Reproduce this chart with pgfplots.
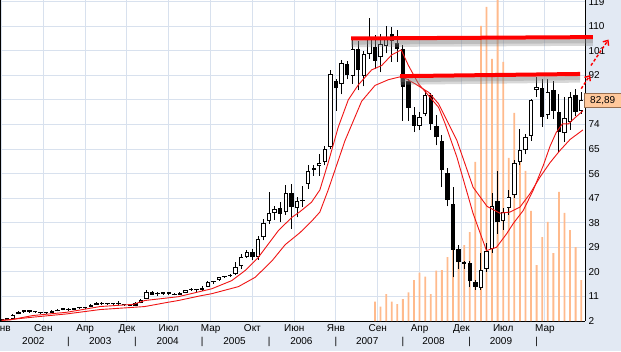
\documentclass[border=0pt]{standalone}
\usepackage{pgfplots}
\pgfplotsset{compat=1.18}
\usepackage{pgfplotstable}
\usepackage{fontspec}
\setmainfont{Liberation Sans}
\usetikzlibrary{arrows.meta}
\definecolor{bgc}{RGB}{226,233,243}
\definecolor{gridc}{RGB}{216,225,238}
\definecolor{volc}{RGB}{255,186,140}
\definecolor{mac}{RGB}{240,20,20}
\definecolor{tagfill}{RGB}{255,200,155}
\definecolor{tagdraw}{RGB}{150,110,80}

\pgfplotstableread{
m O H L C
0 2.3 2.9 2.1 2.6
1 2.5 2.9 2.3 2.8
2 2.9 4.6 2.8 4.3
3 4.5 5.7 4.4 5.4
4 5.4 5.9 5.0 5.5
5 5.5 5.9 5.1 5.4
6 5.4 5.6 5.0 5.2
7 5.2 5.3 4.7 4.9
8 4.9 5.3 4.7 5.1
9 5.1 5.9 5.0 5.6
10 5.6 6.4 5.5 6.2
11 6.2 6.5 5.9 6.3
12 6.3 6.7 5.8 6.1
13 6.1 6.8 6.0 6.6
14 6.6 6.9 6.4 6.7
15 6.7 7.0 6.5 6.8
16 7.1 8.2 7.0 8.0
17 8.0 8.9 7.9 8.4
18 8.4 8.9 7.9 8.3
19 8.3 8.6 7.8 8.2
20 8.2 8.7 7.9 8.3
21 8.3 9.3 7.6 8.2
22 8.2 8.3 7.6 7.8
23 7.8 8.0 7.4 7.6
24 7.6 8.9 7.5 8.5
25 8.6 9.9 8.5 9.8
26 10.1 13.4 10.0 12.8
27 12.6 13.0 11.5 11.7
28 11.8 12.8 11.3 12.0
29 12.0 12.6 11.5 12.1
30 12.1 12.6 11.6 12.0
31 12.0 12.2 11.4 11.6
32 11.7 12.5 11.6 12.1
33 12.4 13.5 12.2 13.4
34 13.4 14.0 13.0 13.5
35 13.4 13.6 12.3 13.2
36 13.3 14.8 13.0 14.2
37 14.5 16.5 14.3 16.2
38 16.2 16.8 15.6 16.3
39 17.0 18.2 16.8 18.0
40 18.1 18.6 17.8 18.4
41 18.5 19.1 18.3 18.9
42 19.3 23.5 18.7 21.7
43 22.0 26.6 21.0 25.6
44 25.6 28.0 25.0 27.2
45 27.2 28.5 24.2 25.4
46 25.4 33.0 24.5 32.1
47 32.7 39.4 31.5 37.8
48 38.6 49.4 37.5 41.5
49 41.6 44.0 39.0 43.1
50 43.5 45.5 38.2 41.3
51 41.8 51.7 41.0 48.8
52 49.0 52.3 35.8 43.7
53 43.5 47.6 40.0 45.8
54 45.9 51.6 43.7 46.4
55 52.3 59.0 50.4 56.9
56 57.5 59.2 55.3 57.9
57 58.7 63.2 55.3 59.9
58 60.2 66.0 59.0 65.1
59 65.7 93.8 65.1 92.5
60 89.9 90.5 79.0 87.2
61 88.9 97.5 85.0 96.6
62 96.2 97.4 90.5 92.3
63 91.9 105.0 89.0 101.7
64 101.7 104.7 86.5 94.0
65 91.9 101.0 88.0 99.9
66 99.9 113.0 98.0 105.4
67 102.3 106.6 94.3 97.4
68 98.6 107.0 93.1 103.5
69 102.9 110.2 100.0 106.2
70 107.2 109.6 97.0 104.7
71 103.9 108.7 97.0 101.7
72 101.7 103.0 75.4 87.9
73 90.1 90.5 75.2 80.1
74 77.6 80.3 71.2 73.6
75 73.6 78.5 71.8 76.9
76 77.9 86.7 77.0 84.8
77 84.8 85.5 72.0 74.2
78 73.6 77.3 66.3 69.3
79 68.1 70.0 51.0 57.2
80 56.1 58.0 44.0 46.4
81 44.9 51.0 18.0 28.1
82 28.4 30.0 21.0 23.5
83 23.2 24.0 21.0 23.0
84 23.2 23.8 14.5 16.8
85 16.2 17.0 13.5 14.4
86 14.2 27.0 13.5 20.8
87 21.1 30.7 20.0 27.8
88 28.4 48.8 27.0 44.3
89 45.9 56.9 33.9 38.2
90 38.6 43.4 35.5 41.9
91 43.5 50.0 41.0 47.3
92 48.0 61.0 47.0 59.8
93 60.2 72.4 59.0 64.5
94 64.5 70.5 63.0 69.3
95 69.9 83.5 68.0 82.8
96 86.7 91.3 84.0 87.9
97 87.4 90.7 73.2 76.6
98 77.3 90.7 76.0 85.8
99 86.5 90.1 76.0 79.1
100 78.7 85.2 63.8 71.2
101 70.8 84.0 67.5 76.3
102 74.8 85.8 72.0 84.0
103 84.8 87.0 77.0 78.5
104 79.1 85.8 78.0 82.89
}\candles

\pgfplotstableread{
m v
67 19.3
68 14.3
69 27
70 19.3
71 17
72 22
73 28.7
74 41
75 48.3
76 44.3
77 27
78 50.3
79 51
80 64
81 72
82 64
83 76
84 89
85 159
86 295
87 314
88 262
89 340
90 259
91 163
92 208
93 164
94 150
95 110
96 56
97 84
98 99
99 68
100 129
101 108
102 91
103 74
104 41
}\volume

\begin{document}
\begin{tikzpicture}[font=\fontsize{10}{12}\selectfont]
\useasboundingbox (0,0) rectangle (621pt,351pt);
\clip (0,0) rectangle (621pt,351pt);
\fill[bgc] (0,0) rectangle (621pt,351pt);
\pgfplotsset{
  base/.style={scale only axis, width=585pt, height=321pt, at={(0pt,30pt)}, anchor=south west,
    xmin=-0.287, xmax=104.68, ymin=2, ymax=119.6}
}
% frame, grid, labels
\begin{axis}[base,
  axis background/.style={fill=white},
  axis x line*=bottom, axis y line*=right,
  axis line style={black, line width=1pt},
  xtick={0,7.5,15,22.5,30,37.5,45,52.5,60,67.5,75,82.5,90,97.5},
  xticklabels={Янв,Сен,Апр,Дек,Июл,Мар,Окт,Июн,Янв,Сен,Апр,Дек,Июл,Мар},
  ytick={2,11,20,29,38,47,56,65,74,83,92,101,110,119},
  yticklabels={2,11,20,29,38,47,56,65,74,,92,101,110,119},
  major tick length=0pt,
  grid=major, major grid style={gridc, line width=1pt},
  yticklabel style={anchor=west},
  extra x ticks={5.7,12,17.7,24,29.8,36,41.8,48,53.8,60,65.6,72,77.5,84,89.6,96},
  extra x tick labels={2002,|,2003,|,2004,|,2005,|,2006,|,2007,|,2008,|,2009,|},
  extra x tick style={grid=none, xticklabel style={yshift=-12.5pt}},
  extra y ticks={82.89}, extra y tick labels={82{,}89},
  extra y tick style={grid=none, yticklabel style={draw=tagdraw, fill=tagfill, inner sep=0pt,
     minimum width=37pt, minimum height=14pt, anchor=west, xshift=-1pt}},
]
\draw[black, line width=1pt] (rel axis cs:0,0) -- (rel axis cs:0,1);
\end{axis}
% volume
\begin{axis}[base, hide axis, ymin=0, ymax=321]
\addplot[ybar, bar width=1.8pt, fill=volc, draw=none] table[x=m, y=v]{\volume};
\end{axis}
% candles, averages, annotations
\begin{axis}[base, hide axis, clip=false]
\addplot[draw=none, mark=none, error bars/.cd, y dir=plus, y explicit, error mark=none,
  error bar style={draw=black, line width=0.9pt}]
  table[x=m, y=L, y error plus expr={\thisrow{H}-\thisrow{L}}]{\candles};
\addplot[draw=none, mark=none, error bars/.cd, y dir=plus, y explicit, error mark=none,
  error bar style={draw=black, line width=4.4pt}]
  table[x=m, y expr={min(\thisrow{O},\thisrow{C})}, y error plus expr={max(abs(\thisrow{C}-\thisrow{O}),0.45)}]{\candles};
\addplot[draw=none, mark=none, restrict x to domain=-1:110, error bars/.cd, y dir=plus, y explicit, error mark=none,
  error bar style={draw=white, line width=2.6pt}]
  table[x expr={ifthenelse(\thisrow{C}-\thisrow{O}>0.9,\thisrow{m},-50)}, y expr={\thisrow{O}+0.37}, y error plus expr={\thisrow{C}-\thisrow{O}-0.74}]{\candles};
% moving averages
\addplot[mac, line width=0.9pt] coordinates {(0,2.3) (1.5,2.4) (5.6,4.0) (11.7,5.2) (17.7,7.3) (23.6,8.1) (25.7,9.5) (31.7,10.9) (37.7,13.8) (41.3,16.8) (43.7,20.5) (46.1,25.4) (47.9,30.3) (49.7,35.2) (50.9,37.6) (52.1,40) (53.5,42) (55.6,45.5) (57.1,50) (58.6,60) (60.4,73) (62.2,83) (64,88.5) (66.4,94) (68.2,95.6) (70,99.5) (71.7,101.3) (73,95.6) (74.8,88.9) (76.6,84.6) (78.4,80.3) (79.6,74.2) (81.7,62) (84.6,41.4) (87,27.8) (88.8,29) (90.6,33.9) (91.8,37.7) (93.6,42.5) (95.4,50) (97.2,59) (98.4,66) (99.5,71) (100.6,74.2) (101.7,74.2) (102.8,76.3) (104.3,79)};
\addplot[mac, line width=0.9pt] coordinates {(0,2.2) (5.6,3.4) (11.7,4.6) (17.7,6.2) (23.6,7.0) (25.7,7.3) (29.7,8.8) (31.7,9.5) (35.6,11.2) (37.7,12) (42.5,14.6) (45.5,18) (48.5,24) (50.9,30) (53.5,34.3) (55.6,38.5) (57.1,41.9) (58.6,50) (61.6,68) (64.6,82.5) (67,88.3) (69.4,90.4) (71.8,91.6) (74.2,88.9) (76.6,85.8) (78.4,81.6) (79.6,76.7) (81.7,68.1) (84.6,51) (87.1,44) (89.4,41.5) (91.2,41.9) (93,43.7) (94.8,48.6) (96.6,54.7) (98.4,60) (100.2,64.5) (102,68.5) (104.3,72)};
% resistance lines with shadows
\addplot[gray, opacity=0.3, line width=8pt] coordinates {(62.7,103.8) (106.1,104.3)};
\addplot[gray, opacity=0.3, line width=4pt] coordinates {(62.7,104.0) (106.1,104.5)};
\addplot[red, line width=4pt] coordinates {(62.7,105.5) (106.1,106.0)};
\addplot[gray, opacity=0.3, line width=8pt] coordinates {(71.5,90.0) (103.8,90.8)};
\addplot[gray, opacity=0.3, line width=4pt] coordinates {(71.5,90.2) (103.8,91.0)};
\addplot[red, line width=4pt] coordinates {(71.5,91.7) (103.8,92.5)};
% dashed arrows
\addplot[red, line width=1.4pt, dash pattern=on 3pt off 2pt, -{Straight Barb[length=4pt,width=7pt]}] coordinates {(104,87.1) (105.6,92.1)};
\addplot[red, line width=1.4pt, dash pattern=on 3pt off 2pt, -{Straight Barb[length=4pt,width=7pt]}] coordinates {(105.75,95.6) (108.9,105.1)};
\end{axis}
\end{tikzpicture}
\end{document}
